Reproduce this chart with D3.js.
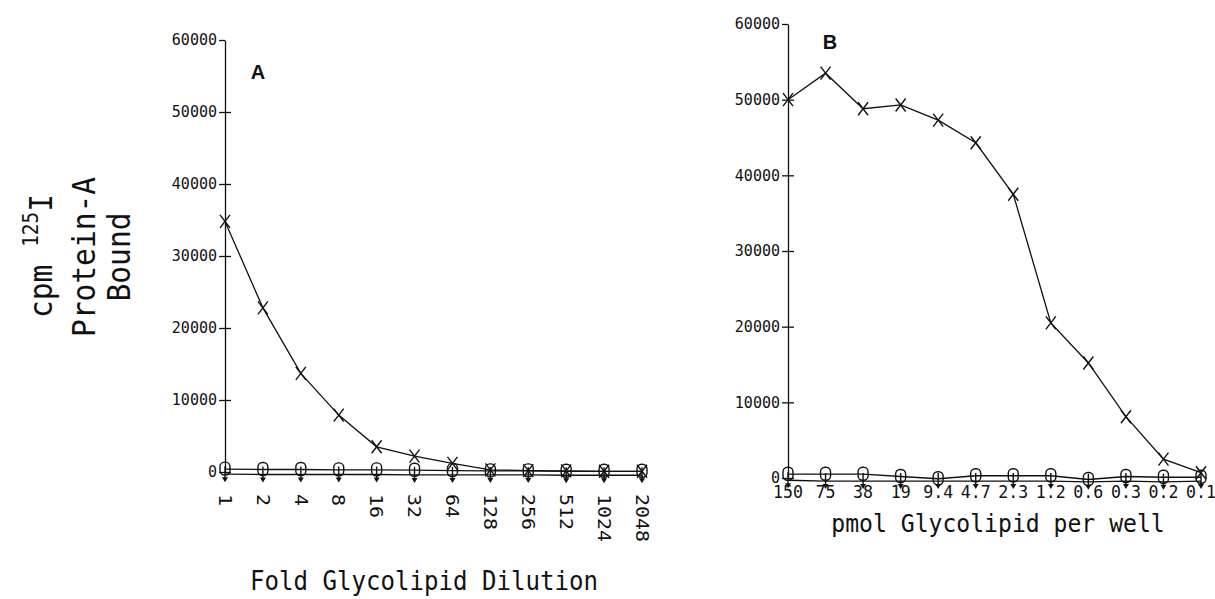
<!DOCTYPE html>
<html lang="en">
<head>
<meta charset="UTF-8">
<title>Protein-A binding</title>
<script src="https://d3js.org/d3.v7.min.js"></script>
<style>
    body { margin: 0; background: #fff; }
    svg { display: block; }
    .plot text { font-family: 'DejaVu Sans Mono', monospace; fill: #111; }
    .plot text.panel-letter { font-family: 'Liberation Sans', Arial, sans-serif; font-weight: bold; font-size: 20px; fill: #111; }
</style>
</head>
<body>
<svg id="chart" class="plot" width="1215" height="599"></svg>
<script>
// y ticks shared by both panels
const yTicks = [0, 10000, 20000, 30000, 40000, 50000, 60000];

// panel A: fold glycolipid dilution
const dilutionLabels = ["1", "2", "4", "8", "16", "32", "64", "128", "256", "512", "1024", "2048"];
const dilutionX    = [34800, 22800, 13700, 7900, 3500, 2200, 1200, 300, 200, 150, 100, 100];
const dilutionO    = [400, 350, 350, 300, 300, 250, 200, 150, 150, 100, 100, 100];
const dilutionPlus = [-300, -350, -350, -350, -350, -400, -400, -400, -400, -450, -450, -450];

// panel B: pmol glycolipid per well
const pmolLabels = ["150", "75", "38", "19", "9.4", "4.7", "2.3", "1.2", "0.6", "0.3", "0.2", "0.1"];
const pmolX    = [50000, 53500, 48800, 49300, 47300, 44300, 37500, 20500, 15200, 8100, 2500, 700];
const pmolO    = [500, 500, 500, 200, -100, 300, 300, 300, -200, 200, 100, 100];
const pmolPlus = [-300, -400, -400, -400, -400, -400, -400, -400, -500, -400, -500, -400];

const svg = d3.select("#chart");
const MONO_ADV = 0.602; // DejaVu Sans Mono advance per em

// plotter-like text: size sets the glyph height, adv the spacing per char
function plotText(g, x, y, str, size, adv, anchor, rot) {
    const sx = adv / (MONO_ADV * size);
    return g.append("text")
        .attr("transform", `translate(${x},${y}) rotate(${rot || 0}) scale(${sx},1)`)
        .attr("font-size", size)
        .attr("text-anchor", anchor || "middle")
        .text(str);
}

function drawPanel(cfg) {
    const g = svg.append("g");
    const x = d3.scalePoint().domain(cfg.labels).range([cfg.left, cfg.right]);
    const y = d3.scaleLinear().domain([0, 60000]).range([cfg.bottom, cfg.top]);

    const yAxis = g.append("g")
        .attr("transform", `translate(${cfg.left},0)`)
        .call(d3.axisLeft(y).tickValues(yTicks).tickSizeInner(6).tickSizeOuter(0).tickPadding(2).tickFormat(d3.format("d")));
    yAxis.select(".domain").attr("stroke", "#111").attr("stroke-width", 1.3);
    yAxis.selectAll(".tick line").attr("x1", -6).attr("x2", d => d === 60000 ? 0 : 6).attr("stroke", "#111").attr("stroke-width", 1.3);
    yAxis.selectAll(".tick text").attr("font-size", 15).attr("fill", "#111");

    const line = d3.line().x((d, i) => x(cfg.labels[i])).y(d => y(d));
    [cfg.plus, cfg.o, cfg.x].forEach(vals => {
        g.append("path").datum(vals)
            .attr("d", line)
            .attr("fill", "none")
            .attr("stroke", "#111")
            .attr("stroke-width", 1.3);
    });

    // down-arrow markers
    cfg.plus.forEach((v, i) => {
        const cx = x(cfg.labels[i]), cy = y(v);
        g.append("line").attr("x1", cx).attr("x2", cx).attr("y1", cy - 8).attr("y2", cy + 4)
            .attr("stroke", "#111").attr("stroke-width", 1.4);
        g.append("path").attr("d", `M${cx - 3},${cy + 3}L${cx + 3},${cy + 3}L${cx},${cy + 8}Z`).attr("fill", "#111");
    });
    // rounded "O" markers
    cfg.o.forEach((v, i) => {
        const cx = x(cfg.labels[i]), cy = y(v);
        g.append("rect").attr("x", cx - 5).attr("y", cy - 7).attr("width", 10).attr("height", 13)
            .attr("rx", 4.5).attr("fill", "none").attr("stroke", "#111").attr("stroke-width", 1.4);
    });
    // cross markers
    cfg.x.forEach((v, i) => {
        const cx = x(cfg.labels[i]), cy = y(v);
        g.append("path").attr("d", `M${cx - 5},${cy - 6.5}L${cx + 5},${cy + 6.5}M${cx + 5},${cy - 6.5}L${cx - 5},${cy + 6.5}`)
            .attr("stroke", "#111").attr("stroke-width", 1.4).attr("fill", "none");
    });

    // category labels
    cfg.labels.forEach(l => {
        if (cfg.rotateLabels) {
            plotText(g, x(l), cfg.labelY, l, 18, 12, "start", 90).attr("dy", "0.35em");
        } else {
            plotText(g, x(l), cfg.labelY, l, 17, 10, "middle", 0);
        }
    });

    plotText(g, cfg.titleX, cfg.titleY, cfg.title, cfg.titleSize, cfg.titleAdv, "middle", 0);
    g.append("text").attr("class", "panel-letter")
        .attr("x", cfg.letterX).attr("y", cfg.letterY).attr("text-anchor", "middle")
        .text(cfg.letter);
}

drawPanel({
    labels: dilutionLabels, x: dilutionX, o: dilutionO, plus: dilutionPlus,
    left: 225, right: 642, top: 40, bottom: 472,
    rotateLabels: true, labelY: 494,
    title: "Fold Glycolipid Dilution", titleX: 424, titleY: 590, titleSize: 27, titleAdv: 14.5,
    letter: "A", letterX: 258, letterY: 79
});

drawPanel({
    labels: pmolLabels, x: pmolX, o: pmolO, plus: pmolPlus,
    left: 788, right: 1201, top: 24, bottom: 478,
    rotateLabels: false, labelY: 498,
    title: "pmol Glycolipid per well", titleX: 998, titleY: 532, titleSize: 24, titleAdv: 13.9,
    letter: "B", letterX: 830, letterY: 49
});

// shared y label, three rotated lines
const yl = svg.append("g");
const l1 = plotText(yl, 52, 256, "cpm ", 32, 17.8, "middle", -90);
l1.append("tspan").attr("font-size", 21).attr("dy", -14).text("125");
l1.append("tspan").attr("dy", 14).text("I");
plotText(yl, 95, 257, "Protein-A", 32, 17.8, "middle", -90);
plotText(yl, 130, 257, "Bound", 32, 17.8, "middle", -90);
</script>
</body>
</html>
